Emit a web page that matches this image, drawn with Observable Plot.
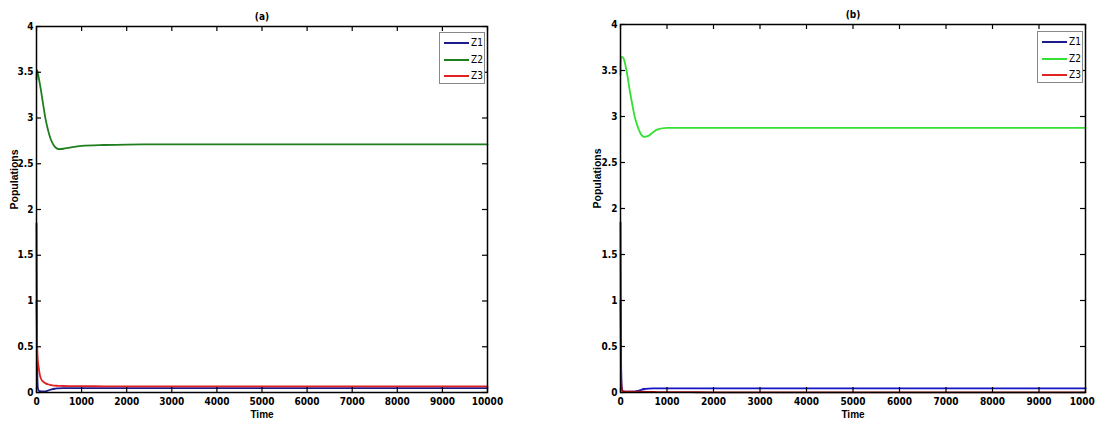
<!DOCTYPE html>
<html>
<head>
<meta charset="utf-8">
<script src="https://cdn.jsdelivr.net/npm/d3@7"></script>
<script src="https://cdn.jsdelivr.net/npm/@observablehq/plot@0.6"></script>
<style>
  body { margin: 0; background: white; }
  #wrap { position: relative; width: 1095px; height: 427px; overflow: hidden; background: white; }
  .panel { position: absolute; top: 0; }
  .legend { position: absolute; box-sizing: border-box; border: 1px solid #888; background: white;
            font-family: 'Liberation Sans Narrow', 'DejaVu Sans Condensed', sans-serif; font-size: 10px; }
  .legend .row { position: absolute; left: 0; height: 12px; width: 100%; }
  .legend .row span.ln { position: absolute; left: 4px; top: 5px; width: 25px; height: 2px; }
  .legend .row span.tx { position: absolute; left: 31px; top: 0; line-height: 12px; }
</style>
</head>
<body>
<div id="wrap"></div>
<script>
// ---- data ----
const seriesNames = ["Z1", "Z2", "Z3"];
const xTicks = [0, 1000, 2000, 3000, 4000, 5000, 6000, 7000, 8000, 9000, 10000];
const yTicks = [0, 0.5, 1, 1.5, 2, 2.5, 3, 3.5, 4];
const times = [0, 5, 10, 15, 20, 30, 50, 75, 100, 150, 200, 250, 300, 350, 400, 450, 500, 600, 700, 800, 1000, 1500, 2000, 3000, 5000, 10000];

// panel (a)
const a_Z1 = [1.85, 1.2, 0.6, 0.3, 0.15, 0.05, 0.02, 0.014, 0.012, 0.011, 0.013, 0.02, 0.03, 0.036, 0.041, 0.044, 0.046, 0.047, 0.048, 0.048, 0.048, 0.048, 0.048, 0.048, 0.048, 0.048];
const a_Z2 = [3.42, 3.5, 3.52, 3.52, 3.51, 3.49, 3.44, 3.37, 3.3, 3.14, 2.99, 2.88, 2.79, 2.73, 2.69, 2.668, 2.66, 2.664, 2.673, 2.682, 2.695, 2.705, 2.71, 2.712, 2.712, 2.712];
const a_Z3 = [1.0, 0.8, 0.6, 0.5, 0.43, 0.35, 0.27, 0.19, 0.15, 0.118, 0.1, 0.09, 0.083, 0.079, 0.076, 0.074, 0.073, 0.071, 0.07, 0.07, 0.069, 0.068, 0.068, 0.068, 0.068, 0.068];

// panel (b)
const b_Z1 = [1.85, 1.1, 0.5, 0.25, 0.12, 0.04, 0.015, 0.01, 0.008, 0.008, 0.008, 0.009, 0.01, 0.014, 0.02, 0.03, 0.038, 0.043, 0.044, 0.044, 0.044, 0.044, 0.044, 0.044, 0.044, 0.044];
const b_Z2 = [3.45, 3.6, 3.63, 3.64, 3.645, 3.648, 3.645, 3.62, 3.57, 3.44, 3.28, 3.14, 3.01, 2.92, 2.85, 2.80, 2.78, 2.79, 2.83, 2.86, 2.876, 2.876, 2.876, 2.876, 2.876, 2.876];
const b_Z3 = [1.0, 0.6, 0.3, 0.15, 0.08, 0.03, 0.015, 0.012, 0.01, 0.01, 0.01, 0.01, 0.01, 0.01, 0.009, 0.009, 0.008, 0.007, 0.006, 0.005, 0.004, 0.003, 0.002, 0.002, 0.002, 0.002];

const colorsA = ["#1c1c8c", "#1f7f1f", "#e02222"];
const colorsB = ["#1414c4", "#33e033", "#b81212"];
const legendColorsB = ["#1c1c8c", "#33e033", "#e02222"];

function rows(series) {
  const out = [];
  series.forEach((vals, i) => vals.forEach((v, j) => out.push({t: times[j], v, s: seriesNames[i]})));
  return out;
}

const FONT = "'Liberation Sans Narrow', 'DejaVu Sans Condensed', sans-serif";
const H = 427;

function panel({title, data, colors, width, ml, mr, mt, mb, labelDx}) {
  const ph = H - mt - mb, pw = width - ml - mr;
  return Plot.plot({
    width, height: H,
    marginLeft: ml, marginRight: mr, marginTop: mt, marginBottom: mb,
    style: {fontFamily: FONT, fontSize: "10px", background: "white", color: "black"},
    x: {domain: [0, 10000]},
    y: {domain: [0, 4]},
    color: {domain: seriesNames, range: colors},
    marks: [
      Plot.line(data, {x: "t", y: "v", z: "s", stroke: "s", strokeWidth: 1.8, curve: "monotone-x"}),
      Plot.axisX({anchor: "bottom", ticks: xTicks, tickFormat: d => String(d), tickSize: 0, tickPadding: 5, fontWeight: "bold", letterSpacing: "-0.6px", label: null}),
      Plot.axisY({anchor: "left", ticks: yTicks, tickFormat: d => String(d), tickSize: 0, tickPadding: 3, fontWeight: "bold", letterSpacing: "-0.5px", label: null}),
      // inward ticks on all four sides
      Plot.tickX(xTicks, {x: d => d, insetTop: ph - 5, stroke: "black", strokeWidth: 1.2}),
      Plot.tickX(xTicks, {x: d => d, insetBottom: ph - 5, stroke: "black", strokeWidth: 1.2}),
      Plot.tickY(yTicks, {y: d => d, insetRight: pw - 5, stroke: "black", strokeWidth: 1.2}),
      Plot.tickY(yTicks, {y: d => d, insetLeft: pw - 5, stroke: "black", strokeWidth: 1.2}),
      Plot.frame({stroke: "black", strokeWidth: 1.5}),
      Plot.text([title], {text: d => d, frameAnchor: "top", dy: -14, fontSize: 10, fontWeight: "bold", letterSpacing: "1px"}),
      Plot.text(["Time"], {text: d => d, frameAnchor: "bottom", dy: 25, fontSize: 10, fontWeight: "bold", fontFamily: "'Liberation Sans', Arial, sans-serif"}),
      Plot.text(["Populations"], {text: d => d, frameAnchor: "left", dx: labelDx, rotate: -90, fontSize: 10.5, fontWeight: "bold", fontFamily: "'Liberation Sans', Arial, sans-serif"})
    ]
  });
}

const wrap = document.getElementById("wrap");
const pa = panel({title: "(a)", data: rows([a_Z1, a_Z2, a_Z3]), colors: colorsA, width: 548, ml: 36, mr: 61, mt: 26, mb: 35, labelDx: -22});
pa.classList.add("panel"); pa.style.left = "0px";
const pb = panel({title: "(b)", data: rows([b_Z1, b_Z2, b_Z3]), colors: colorsB, width: 547, ml: 72, mr: 10, mt: 24, mb: 35, labelDx: -23});
pb.classList.add("panel"); pb.style.left = "548px";
wrap.appendChild(pa); wrap.appendChild(pb);

function legend(left, top, colors) {
  const box = document.createElement("div");
  box.className = "legend";
  box.style.left = left + "px"; box.style.top = top + "px";
  box.style.width = "46px"; box.style.height = "52px";
  seriesNames.forEach((n, i) => {
    const r = document.createElement("div");
    r.className = "row"; r.style.top = (4 + i * 16.5) + "px";
    const ln = document.createElement("span"); ln.className = "ln"; ln.style.background = colors[i];
    const tx = document.createElement("span"); tx.className = "tx"; tx.textContent = n;
    r.appendChild(ln); r.appendChild(tx); box.appendChild(r);
  });
  wrap.appendChild(box);
}
legend(439, 32, colorsA);
legend(1037, 31, legendColorsB);
</script>
</body>
</html>
